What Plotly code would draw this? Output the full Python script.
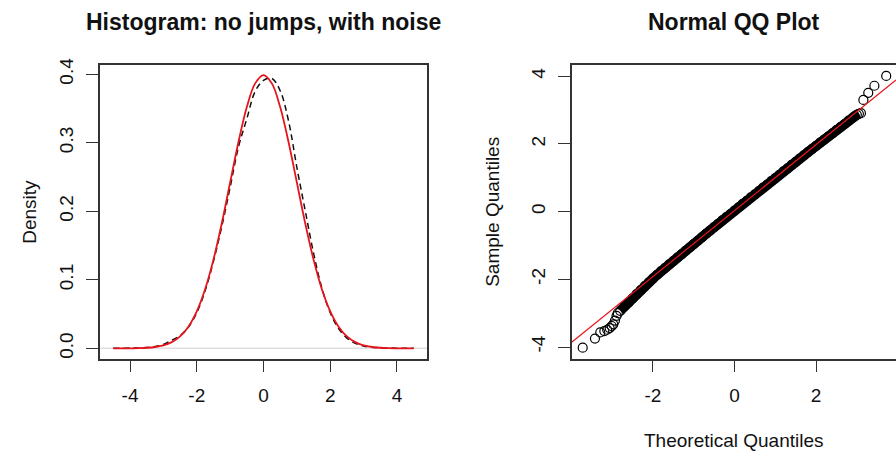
import plotly.graph_objects as go

# ---------------- data: left panel (density curves) ----------------
dens_x = [-4.5, -4.25, -4.0, -3.75, -3.5, -3.25, -3.0, -2.75, -2.5, -2.25, -2.0, -1.75,
          -1.5, -1.25, -1.0, -0.75, -0.5, -0.25, 0.0, 0.25, 0.5, 0.75, 1.0, 1.25, 1.5,
          1.75, 2.0, 2.25, 2.5, 2.75, 3.0, 3.25, 3.5, 3.75, 4.0, 4.25, 4.5]
normal_density = [0.0000, 0.0001, 0.0001, 0.0004, 0.0009, 0.0020, 0.0044, 0.0091, 0.0175,
                  0.0317, 0.0540, 0.0863, 0.1295, 0.1826, 0.2420, 0.3011, 0.3521, 0.3867,
                  0.3989, 0.3867, 0.3521, 0.3011, 0.2420, 0.1826, 0.1295, 0.0863, 0.0540,
                  0.0317, 0.0175, 0.0091, 0.0044, 0.0020, 0.0009, 0.0004, 0.0001, 0.0001, 0.0000]
kernel_density = [0.0000, 0.0002, 0.0004, 0.0006, 0.0011, 0.0028, 0.0058, 0.0118, 0.0185,
                  0.0310, 0.0520, 0.0840, 0.1270, 0.1780, 0.2350, 0.2940, 0.3350, 0.3750,
                  0.3910, 0.3940, 0.3760, 0.3320, 0.2640, 0.2010, 0.1390, 0.0880, 0.0520,
                  0.0290, 0.0150, 0.0072, 0.0036, 0.0018, 0.0010, 0.0005, 0.0002, 0.0001, 0.0000]
zero_line_x = [-4.9, 4.9]
zero_line_y = [0.0, 0.0]

# ---------------- data: right panel (normal QQ plot) ----------------
theo_q = [-3.72, -3.42, -3.29, -3.19, -3.12, -3.06, -3.01, -2.97, -2.93, -2.89, -2.86,
          -2.8, -2.7, -2.6, -2.5, -2.4, -2.3, -2.2, -2.1, -2.0, -1.9, -1.8, -1.7, -1.6,
          -1.5, -1.4, -1.3, -1.2, -1.1, -1.0, -0.9, -0.8, -0.7, -0.6, -0.5, -0.4, -0.3,
          -0.2, -0.1, 0.0, 0.1, 0.2, 0.3, 0.4, 0.5, 0.6, 0.7, 0.8, 0.9, 1.0, 1.1, 1.2,
          1.3, 1.4, 1.5, 1.6, 1.7, 1.8, 1.9, 2.0, 2.1, 2.2, 2.3, 2.4, 2.5, 2.6, 2.7, 2.8,
          2.9, 2.95, 3.0, 3.05, 3.10, 3.16, 3.28, 3.43, 3.72]
sample_q = [-4.02, -3.75, -3.57, -3.53, -3.49, -3.44, -3.38, -3.33, -3.22, -3.08, -3.00,
            -2.93, -2.80, -2.69, -2.56, -2.44, -2.32, -2.20, -2.09, -1.98, -1.87, -1.76,
            -1.66, -1.56, -1.46, -1.36, -1.26, -1.16, -1.06, -0.96, -0.86, -0.76, -0.66,
            -0.56, -0.46, -0.36, -0.26, -0.16, -0.07, 0.03, 0.13, 0.23, 0.32, 0.42, 0.51,
            0.61, 0.71, 0.80, 0.90, 0.99, 1.09, 1.19, 1.28, 1.38, 1.47, 1.57, 1.66, 1.76,
            1.85, 1.94, 2.04, 2.13, 2.22, 2.31, 2.41, 2.50, 2.59, 2.69, 2.78, 2.82, 2.86,
            2.89, 2.91, 3.30, 3.51, 3.72, 4.01]
band_start, band_end = 11, 72   # dense central run of the sample
qqline_x = [-3.99, 3.96]
qqline_y = [-3.86, 3.89]

# tick values / labels
left_xticks = [-4, -2, 0, 2, 4]
left_xtext = ["-4", "-2", "0", "2", "4"]
left_yticks = [0.0, 0.1, 0.2, 0.3, 0.4]
left_ytext = ["0.0", "0.1", "0.2", "0.3", "0.4"]
right_xticks = [-2, 0, 2]
right_xtext = ["-2", "0", "2"]
right_yticks = [-4, -2, 0, 2, 4]
right_ytext = ["-4", "-2", "0", "2", "4"]

W, H = 896, 455
FONT = "Liberation Sans, Arial, Helvetica, sans-serif"
AX = "#333333"
RED = "#e8141c"
TXT = "#111111"

fig = go.Figure()

# left panel
fig.add_trace(go.Scatter(x=zero_line_x, y=zero_line_y, mode="lines",
                         line=dict(color="#dedede", width=1.5), xaxis="x", yaxis="y",
                         hoverinfo="skip"))
fig.add_trace(go.Scatter(x=dens_x, y=kernel_density, mode="lines", line_shape="spline",
                         line=dict(color="#111111", width=1.5, dash="6px,4px"),
                         xaxis="x", yaxis="y"))
fig.add_trace(go.Scatter(x=dens_x, y=normal_density, mode="lines", line_shape="spline",
                         line=dict(color=RED, width=1.8), xaxis="x", yaxis="y"))

# right panel: dense band underlay, circles, qqline
fig.add_trace(go.Scatter(x=theo_q[band_start:band_end], y=sample_q[band_start:band_end],
                         mode="lines", line=dict(color="#000000", width=10),
                         xaxis="x2", yaxis="y2", hoverinfo="skip"))
fig.add_trace(go.Scatter(x=theo_q, y=sample_q, mode="markers",
                         marker=dict(symbol="circle-open", size=9, color="#000000",
                                     line=dict(width=1.2)),
                         xaxis="x2", yaxis="y2"))
fig.add_trace(go.Scatter(x=qqline_x, y=qqline_y, mode="lines",
                         line=dict(color=RED, width=1.2), xaxis="x2", yaxis="y2"))

ydom = [1 - 357 / H, 1 - 59 / H]
common = dict(showgrid=False, zeroline=False, showline=True, linecolor=AX, linewidth=1.5,
              ticks="outside", ticklen=12, tickwidth=1, tickcolor=AX,
              tickfont=dict(family=FONT, size=19, color=TXT))

fig.update_layout(
    width=W, height=H, margin=dict(l=0, r=0, t=0, b=0),
    paper_bgcolor="white", plot_bgcolor="white", showlegend=False,
    xaxis=dict(domain=[100 / W, 427 / W], range=[-4.9, 4.9], tickvals=left_xticks,
               ticktext=left_xtext, mirror=True, anchor="y", ticklabelstandoff=7, **common),
    yaxis=dict(domain=ydom, range=[-0.0148, 0.4134], tickvals=left_yticks,
               ticktext=left_ytext, tickangle=-90, mirror=True, anchor="x",
               ticklabelstandoff=6, **common),
    xaxis2=dict(domain=[571.7 / W, 1.0], range=[-3.99, 3.96], tickvals=right_xticks,
                ticktext=right_xtext, mirror=True, anchor="y2", ticklabelstandoff=7,
                **common),
    yaxis2=dict(domain=ydom, range=[-4.34, 4.33], tickvals=right_yticks,
                ticktext=right_ytext, tickangle=-90, mirror=False, anchor="x2",
                ticklabelstandoff=5, **common),
)

def ann(text, x, y, size, bold=False, angle=0):
    fig.add_annotation(text=f"<b>{text}</b>" if bold else text, x=x / W, y=1 - y / H,
                       xref="paper", yref="paper", showarrow=False, textangle=angle,
                       xanchor="center", yanchor="middle",
                       font=dict(family=FONT, size=size, color=TXT))

ann("Histogram: no jumps, with noise", 263.5, 15, 23, bold=True)
ann("Normal QQ Plot", 734, 15, 23, bold=True)
ann("Density", 30, 208, 19, angle=-90)
ann("Sample Quantiles", 493, 208, 19, angle=-90)
ann("Theoretical Quantiles", 734, 440, 19)

fig.write_html("out.html")
